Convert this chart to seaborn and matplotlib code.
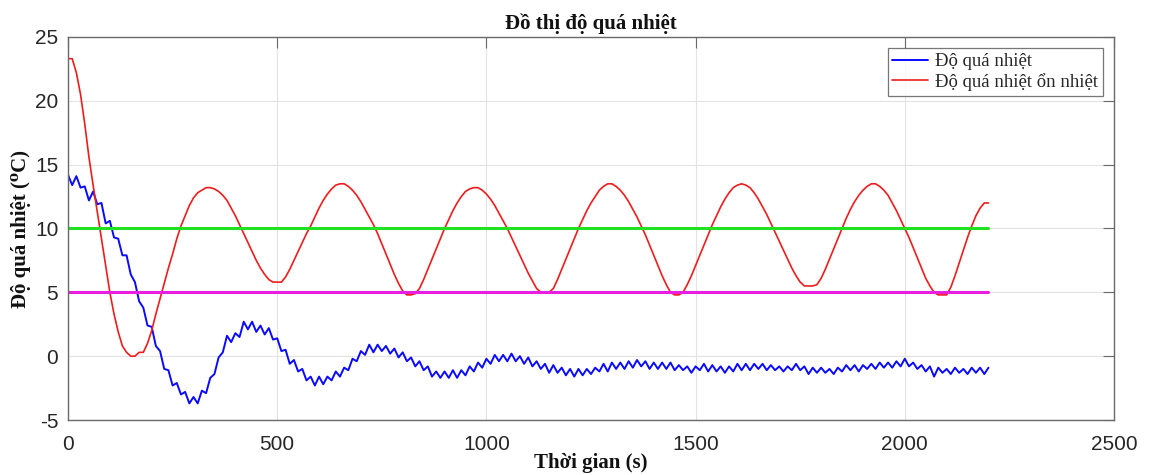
import numpy as np
import pandas as pd
import matplotlib
matplotlib.use("Agg")
import matplotlib.pyplot as plt
import seaborn as sns

time_s = list(range(0, 2201, 10))

do_qua_nhiet = [
    14.2, 13.4, 14.1, 13.2, 13.3, 12.2, 12.9, 11.9, 12.0, 10.4,
    10.6, 9.3, 9.2, 7.9, 7.9, 6.4, 5.8, 4.3, 3.8, 2.4,
    2.3, 0.8, 0.4, -1.0, -1.1, -2.3, -2.1, -3.0, -2.8, -3.7,
    -3.2, -3.7, -2.7, -2.9, -1.7, -1.4, -0.1, 0.3, 1.6, 1.1,
    1.8, 1.5, 2.7, 2.1, 2.7, 1.9, 2.4, 1.7, 2.2, 1.3,
    1.4, 0.4, 0.5, -0.6, -0.3, -1.2, -1.0, -1.9, -1.6, -2.3,
    -1.6, -2.2, -1.6, -1.9, -1.2, -1.6, -0.9, -1.1, -0.2, -0.4,
    0.4, 0.1, 0.9, 0.3, 0.9, 0.4, 0.8, 0.2, 0.6, -0.1,
    0.3, -0.4, -0.1, -0.8, -0.4, -1.1, -0.8, -1.6, -1.2, -1.7,
    -1.2, -1.7, -1.1, -1.7, -1.1, -1.5, -0.8, -1.2, -0.5, -0.9,
    -0.2, -0.6, 0.1, -0.4, 0.1, -0.4, 0.2, -0.4, 0.0, -0.6,
    -0.1, -0.8, -0.4, -1.0, -0.6, -1.3, -0.7, -1.3, -0.9, -1.5,
    -1.0, -1.6, -1.0, -1.5, -1.0, -1.4, -0.9, -1.2, -0.6, -1.2,
    -0.5, -1.0, -0.5, -1.0, -0.4, -0.9, -0.3, -0.8, -0.4, -1.0,
    -0.5, -1.0, -0.5, -1.0, -0.5, -1.1, -0.7, -1.1, -0.8, -1.3,
    -0.8, -1.1, -0.6, -1.2, -0.7, -1.2, -0.8, -1.3, -0.8, -1.2,
    -0.6, -1.1, -0.6, -1.1, -0.6, -1.0, -0.6, -1.1, -0.7, -1.1,
    -0.8, -1.2, -0.8, -1.1, -0.6, -1.1, -0.8, -1.4, -0.9, -1.3,
    -0.9, -1.3, -1.0, -1.4, -0.9, -1.2, -0.7, -1.1, -0.7, -1.2,
    -0.7, -1.0, -0.6, -1.0, -0.5, -0.9, -0.5, -0.9, -0.4, -0.8,
    -0.2, -0.8, -0.5, -1.0, -0.7, -1.2, -0.8, -1.6, -0.9, -1.3,
    -1.0, -1.4, -0.9, -1.3, -1.0, -1.4, -0.9, -1.3, -0.9, -1.4, -0.9,
]

do_qua_nhiet_on_nhiet = [
    23.3, 23.3, 22.2, 20.5, 18.2, 15.6, 13.4, 11.3, 9.2, 7.1,
    5.0, 3.3, 1.9, 0.8, 0.3, 0.0, 0.0, 0.3, 0.3, 1.0,
    2.0, 3.3, 4.5, 5.7, 6.9, 8.0, 9.2, 10.2, 11.0, 11.8,
    12.4, 12.8, 13.0, 13.2, 13.2, 13.1, 12.9, 12.6, 12.2, 11.6,
    11.0, 10.3, 9.6, 8.9, 8.2, 7.5, 6.9, 6.4, 6.0, 5.8,
    5.8, 5.8, 6.2, 6.8, 7.5, 8.2, 8.9, 9.6, 10.2, 10.9,
    11.6, 12.2, 12.7, 13.1, 13.4, 13.5, 13.5, 13.3, 13.0, 12.6,
    12.1, 11.5, 10.9, 10.3, 9.6, 8.8, 8.0, 7.2, 6.4, 5.7,
    5.1, 4.8, 4.8, 4.9, 5.3, 6.0, 6.8, 7.6, 8.4, 9.2,
    10.0, 10.7, 11.4, 12.0, 12.5, 12.9, 13.1, 13.2, 13.2, 13.0,
    12.7, 12.3, 11.8, 11.2, 10.6, 10.0, 9.3, 8.6, 7.9, 7.2,
    6.5, 5.9, 5.3, 5.0, 5.0, 5.0, 5.3, 6.0, 6.8, 7.6,
    8.4, 9.2, 10.0, 10.7, 11.4, 12.0, 12.5, 13.0, 13.3, 13.5,
    13.5, 13.3, 13.0, 12.6, 12.1, 11.5, 10.9, 10.2, 9.5, 8.7,
    7.9, 7.1, 6.3, 5.6, 5.0, 4.8, 4.8, 5.0, 5.6, 6.3,
    7.1, 7.9, 8.7, 9.5, 10.3, 11.0, 11.7, 12.3, 12.8, 13.2,
    13.4, 13.5, 13.4, 13.2, 12.8, 12.3, 11.7, 11.1, 10.4, 9.7,
    9.0, 8.3, 7.6, 6.9, 6.3, 5.8, 5.5, 5.5, 5.5, 5.6,
    6.1, 6.8, 7.6, 8.4, 9.2, 10.0, 10.8, 11.5, 12.1, 12.6,
    13.0, 13.3, 13.5, 13.5, 13.3, 13.0, 12.6, 12.0, 11.4, 10.7,
    10.0, 9.3, 8.5, 7.7, 6.9, 6.1, 5.5, 5.0, 4.8, 4.8,
    4.8, 5.4, 6.3, 7.3, 8.3, 9.3, 10.2, 11.0, 11.6, 12.0, 12.0,
]

limit_x = [0, 2200]
upper_limit = [10, 10]
lower_limit = [5, 5]

x_ticks = [0, 500, 1000, 1500, 2000, 2500]
y_ticks = [-5, 0, 5, 10, 15, 20, 25]

title = "Đồ thị độ quá nhiệt"
x_label = "Thời gian (s)"
y_label = "Độ quá nhiệt (⁰C)"
legend_labels = ["Độ quá nhiệt", "Độ quá nhiệt ổn nhiệt"]

# ---- style ----
sns.set_theme(style="white")
plt.rcParams["font.family"] = ["Liberation Sans", "DejaVu Sans"]
plt.rcParams["axes.unicode_minus"] = False
serif = ["Liberation Serif", "DejaVu Serif"]

fig = plt.figure(figsize=(11.5, 4.75), dpi=100)
ax = fig.add_axes([68 / 1150, 1 - 420 / 475, 1046 / 1150, 383 / 475])

df = pd.DataFrame({"t": time_s, "blue": do_qua_nhiet, "red": do_qua_nhiet_on_nhiet})
lim = pd.DataFrame({"t": limit_x, "up": upper_limit, "lo": lower_limit})

sns.lineplot(data=df, x="t", y="blue", ax=ax, color="#0a0aff", lw=1.4,
             estimator=None, label=legend_labels[0])
sns.lineplot(data=df, x="t", y="red", ax=ax, color="#ee1c1c", lw=1.2,
             estimator=None, label=legend_labels[1])
sns.lineplot(data=lim, x="t", y="up", ax=ax, color="#22e022", lw=2.2,
             estimator=None, legend=False)
sns.lineplot(data=lim, x="t", y="lo", ax=ax, color="#e81ee0", lw=2.2,
             estimator=None, legend=False)

ax.set_xlim(0, 2500)
ax.set_ylim(-5, 25)
ax.set_xticks(x_ticks)
ax.set_yticks(y_ticks)
ax.grid(True, color="#e3e3e3", lw=0.8)
ax.set_axisbelow(True)
for s in ax.spines.values():
    s.set_color("#6a6a6a")
    s.set_linewidth(1.0)
ax.tick_params(direction="in", length=8, width=0.8, color="#6a6a6a",
               top=True, right=True, labelsize=15, labelcolor="#262626")
ax.tick_params(axis="x", pad=11)
ax.tick_params(axis="y", pad=7)

ax.set_title(title, fontfamily=serif, fontweight="bold", fontsize=15,
             color="#111111", pad=6)
ax.set_xlabel(x_label, fontfamily=serif, fontweight="bold", fontsize=15,
              color="#111111", labelpad=-1)
ax.set_ylabel(y_label, fontfamily=serif, fontweight="bold", fontsize=15,
              color="#111111", labelpad=3)

handles, labels = ax.get_legend_handles_labels()
leg = ax.legend(handles[:2], labels[:2], loc="upper right",
                bbox_to_anchor=(0.9895, 0.97), prop={"family": serif, "size": 13.5},
                frameon=True, fancybox=False, edgecolor="#555555",
                borderpad=0.25, handlelength=1.9, handletextpad=0.4,
                labelspacing=0.15, borderaxespad=0.0)
leg.get_frame().set_linewidth(0.9)

fig.savefig("out.png", dpi=100)
